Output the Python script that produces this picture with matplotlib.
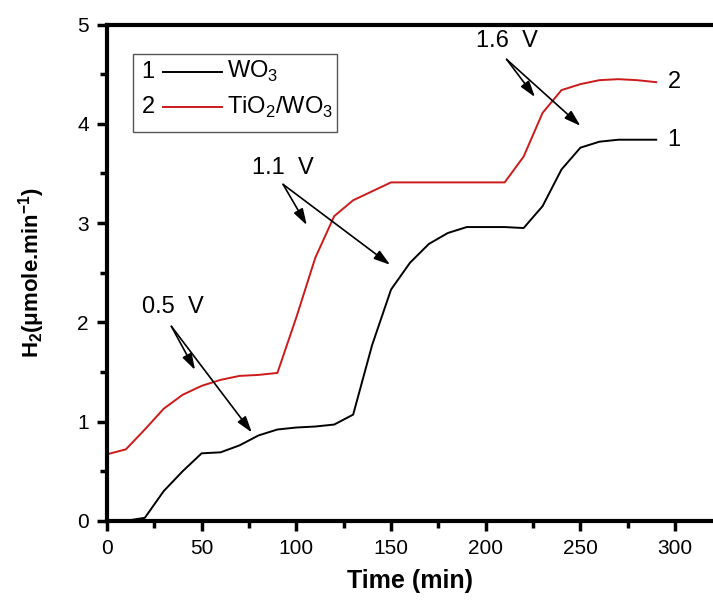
import matplotlib
matplotlib.use("Agg")
import matplotlib.pyplot as plt
from matplotlib.ticker import MultipleLocator
from matplotlib.lines import Line2D
import matplotlib.patches as mpatches

plt.rcParams["font.family"] = ["Liberation Sans", "DejaVu Sans"]
plt.rcParams["mathtext.fontset"] = "custom"
plt.rcParams["mathtext.rm"] = "Liberation Sans"
plt.rcParams["mathtext.bf"] = "Liberation Sans:bold"

# ── Data ────────────────────────────────────────────────────────────────────
time_min = [0, 10, 20, 30, 40, 50, 60, 70, 80, 90, 100, 110, 120, 130, 140,
            150, 160, 170, 180, 190, 200, 210, 220, 230, 240, 250, 260, 270,
            280, 290]
h2_wo3 = [0.0, 0.0, 0.03, 0.30, 0.50, 0.68, 0.69, 0.76, 0.86, 0.92, 0.94,
          0.95, 0.97, 1.07, 1.77, 2.33, 2.60, 2.79, 2.90, 2.96, 2.96, 2.96,
          2.95, 3.17, 3.54, 3.76, 3.82, 3.84, 3.84, 3.84]
h2_tio2_wo3 = [0.67, 0.72, 0.92, 1.13, 1.27, 1.36, 1.42, 1.46, 1.47, 1.49,
               2.05, 2.65, 3.07, 3.23, 3.32, 3.41, 3.41, 3.41, 3.41, 3.41,
               3.41, 3.41, 3.67, 4.11, 4.34, 4.40, 4.44, 4.45, 4.44, 4.42]

# voltage annotations: label, text pos, arrow tail, arrow tips (red, black)
volt_labels = ["0.5  V", "1.1  V", "1.6  V"]
volt_text_xy = [(35, 2.15), (93, 3.55), (211, 4.83)]
volt_tail_xy = [(34, 1.96), (93, 3.39), (211, 4.65)]
volt_tips = [[(46.5, 1.52), (76.5, 0.89)],
             [(105.5, 2.98), (149.5, 2.58)],
             [(226, 4.27), (250, 3.98)]]

RED = "#cc1a1a"

fig = plt.figure(figsize=(7.13, 6.0), dpi=100)
ax = fig.add_axes([0.150, 0.132, 0.850, 0.827])

ax.plot(time_min, h2_wo3, color="black", lw=1.4)
ax.plot(time_min, h2_tio2_wo3, color=RED, lw=1.4)

ax.text(time_min[-1] + 6, h2_tio2_wo3[-1], "2", fontsize=17, va="center")
ax.text(time_min[-1] + 6, h2_wo3[-1], "1", fontsize=17, va="center")

for lab, txy, tail, tips in zip(volt_labels, volt_text_xy, volt_tail_xy, volt_tips):
    ax.text(txy[0], txy[1], lab, fontsize=17, ha="center", va="center")
    for tip in tips:
        ax.annotate("", xy=tip, xytext=tail,
                    arrowprops=dict(arrowstyle="-|>,head_length=0.7,head_width=0.22",
                                    color="black", lw=1.2,
                                    mutation_scale=14, shrinkA=0, shrinkB=0))

# ── Legend (numbered, drawn by hand) ────────────────────────────────────────
ax.add_patch(mpatches.Rectangle((0.043, 0.784), 0.337, 0.156,
                                transform=ax.transAxes, fill=False,
                                edgecolor="#555555", lw=1.0))
for k, (num, col, lab) in enumerate([("1", "black", "WO$_3$"),
                                     ("2", RED, "TiO$_2$/WO$_3$")]):
    yy = 0.905 - k * 0.072
    ax.text(0.057, yy, num, transform=ax.transAxes, fontsize=17, va="center")
    ax.add_line(Line2D([0.092, 0.190], [yy, yy], transform=ax.transAxes,
                       color=col, lw=1.4))
    ax.text(0.198, yy, lab, transform=ax.transAxes, fontsize=17, va="center")

# ── Axes styling ────────────────────────────────────────────────────────────
ax.set_xlim(0, 320)
ax.set_ylim(0, 5)
ax.xaxis.set_major_locator(MultipleLocator(50))
ax.xaxis.set_minor_locator(MultipleLocator(25))
ax.yaxis.set_major_locator(MultipleLocator(1))
ax.yaxis.set_minor_locator(MultipleLocator(0.5))
ax.spines["right"].set_visible(False)
for s in ["left", "bottom", "top"]:
    ax.spines[s].set_linewidth(3.0)
ax.tick_params(which="major", direction="out", length=7, width=2.5,
               labelsize=15, pad=6)
ax.tick_params(which="minor", direction="out", length=5, width=2.5)
ax.tick_params(top=False, right=False)

ax.set_xlabel("Time (min)", fontsize=18, fontweight="bold", labelpad=8)
ax.set_ylabel(r"H$_\mathbf{2}$(μmole.min$^{\mathbf{-1}}$)", fontsize=16,
              fontweight="bold", labelpad=22)

fig.savefig("out.png", dpi=100)
